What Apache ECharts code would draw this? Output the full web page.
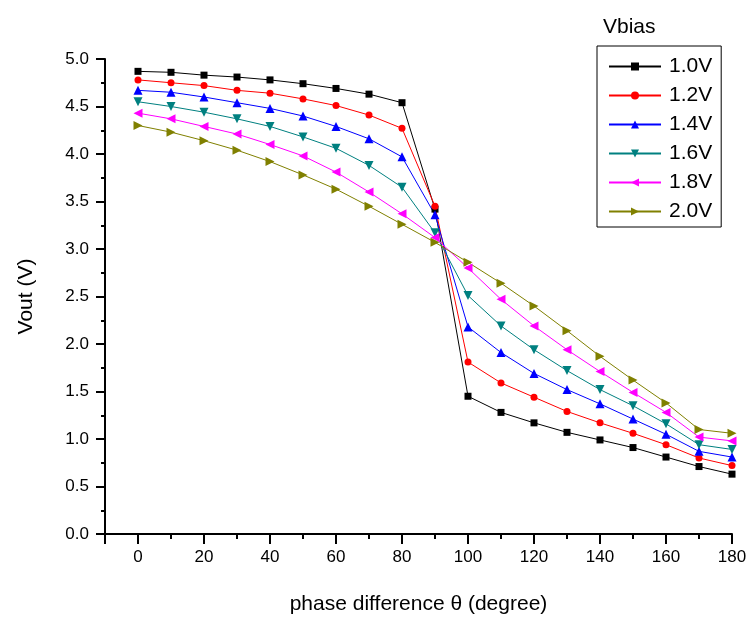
<!DOCTYPE html>
<html>
<head>
<meta charset="utf-8">
<script src="https://cdn.jsdelivr.net/npm/echarts@6/dist/echarts.min.js"></script>
<style>
html,body{margin:0;padding:0;background:#fff;}
#chart{width:751px;height:624px;}
</style>
</head>
<body>
<div id="chart"></div>
<script>
const phase = [0,10,20,30,40,50,60,70,80,90,100,110,120,130,140,150,160,170,180];
const v10 = [4.87,4.86,4.83,4.81,4.78,4.74,4.69,4.63,4.54,3.42,1.45,1.28,1.17,1.07,0.99,0.91,0.81,0.71,0.63];
const v12 = [4.78,4.75,4.72,4.67,4.64,4.58,4.51,4.41,4.27,3.45,1.81,1.59,1.44,1.29,1.17,1.06,0.94,0.80,0.72];
const v14 = [4.67,4.65,4.60,4.54,4.48,4.40,4.29,4.16,3.97,3.36,2.18,1.91,1.69,1.52,1.37,1.21,1.05,0.87,0.81];
const v16 = [4.55,4.50,4.44,4.37,4.29,4.18,4.06,3.88,3.65,3.17,2.51,2.19,1.94,1.72,1.52,1.35,1.16,0.94,0.89];
const v18 = [4.43,4.37,4.29,4.21,4.10,3.98,3.81,3.60,3.37,3.12,2.80,2.47,2.19,1.94,1.71,1.49,1.28,1.02,0.98];
const v20 = [4.30,4.23,4.14,4.04,3.92,3.78,3.63,3.45,3.26,3.07,2.86,2.64,2.40,2.14,1.87,1.62,1.38,1.10,1.06];
const seriesNames = ['1.0V','1.2V','1.4V','1.6V','1.8V','2.0V'];
const seriesValues = [v10, v12, v14, v16, v18, v20];
const colors = ['#000000','#ff0000','#0000ff','#008080','#ff00ff','#808000'];
const symbols = ['rect','circle','triangle','triangle','triangle','triangle'];
const rotations = [0,0,0,180,90,-90];
const sizes = [7,7,9,9,9,9];
const legendTitle = 'Vbias';
const xTitle = 'phase difference \u03b8 (degree)';
const yTitle = 'Vout (V)';

const FONT = 'Liberation Sans, Arial, sans-serif';
const chart = echarts.init(document.getElementById('chart'), null, {renderer:'canvas'});

const series = seriesNames.map((n, i) => ({
  name: n,
  type: 'line',
  data: phase.map((x, j) => [x, seriesValues[i][j]]),
  symbol: symbols[i],
  symbolRotate: rotations[i],
  symbolSize: sizes[i],
  showAllSymbol: true,
  lineStyle: {color: colors[i], width: 1},
  itemStyle: {color: colors[i]},
  emphasis: {disabled: true},
  animation: false
}));

chart.setOption({
  animation: false,
  backgroundColor: '#ffffff',
  textStyle: {fontFamily: FONT, color: '#000'},
  title: {
    text: legendTitle,
    left: 603, top: 17,
    padding: 0,
    textStyle: {fontFamily: FONT, fontSize: 21, fontWeight: 'normal', color: '#000'}
  },
  legend: {
    orient: 'vertical',
    left: 597, top: 46,
    padding: [10, 9, 5, 11],
    itemWidth: 52, itemHeight: 10, itemGap: 8,
    borderColor: '#000', borderWidth: 1,
    backgroundColor: '#fff',
    textStyle: {fontFamily: FONT, fontSize: 21, color: '#000', lineHeight: 21, padding: [0,0,0,3]},
    data: seriesNames
  },
  grid: {left: 105, right: 19, top: 59, bottom: 90, containLabel: false},
  xAxis: [{
    type: 'value', min: -10, max: 180, interval: 10,
    name: xTitle, nameLocation: 'middle', nameGap: 60,
    nameTextStyle: {fontFamily: FONT, fontSize: 21, color: '#000'},
    axisLine: {show: true, onZero: false, lineStyle: {color: '#000', width: 2}},
    axisTick: {show: true, inside: false, length: 5, lineStyle: {color: '#000', width: 2}},
    axisLabel: {
      fontFamily: FONT, fontSize: 17, color: '#000', margin: 15,
      formatter: v => (v >= 0 && v % 20 === 0) ? String(v) : ''
    },
    splitLine: {show: false}
  }, {
    type: 'value', min: -10, max: 180, minInterval: 20, maxInterval: 20, splitNumber: 10,
    position: 'bottom', offset: 0,
    axisLine: {show: false},
    axisTick: {show: true, inside: false, length: 10, lineStyle: {color: '#000', width: 2}},
    axisLabel: {show: false},
    splitLine: {show: false}
  }],
  yAxis: {
    type: 'value', min: 0, max: 5, interval: 0.5,
    name: yTitle, nameLocation: 'middle', nameGap: 68, nameRotate: 90,
    nameTextStyle: {fontFamily: FONT, fontSize: 21, color: '#000'},
    axisLine: {show: true, onZero: false, lineStyle: {color: '#000', width: 2}},
    axisTick: {show: true, inside: false, length: 9, lineStyle: {color: '#000', width: 2}},
    minorTick: {show: true, splitNumber: 2, length: 4, lineStyle: {color: '#000', width: 2}},
    axisLabel: {fontFamily: FONT, fontSize: 17, color: '#000', margin: 16, formatter: v => v.toFixed(1)},
    splitLine: {show: false},
    minorSplitLine: {show: false}
  },
  series: series
});
</script>
</body>
</html>
